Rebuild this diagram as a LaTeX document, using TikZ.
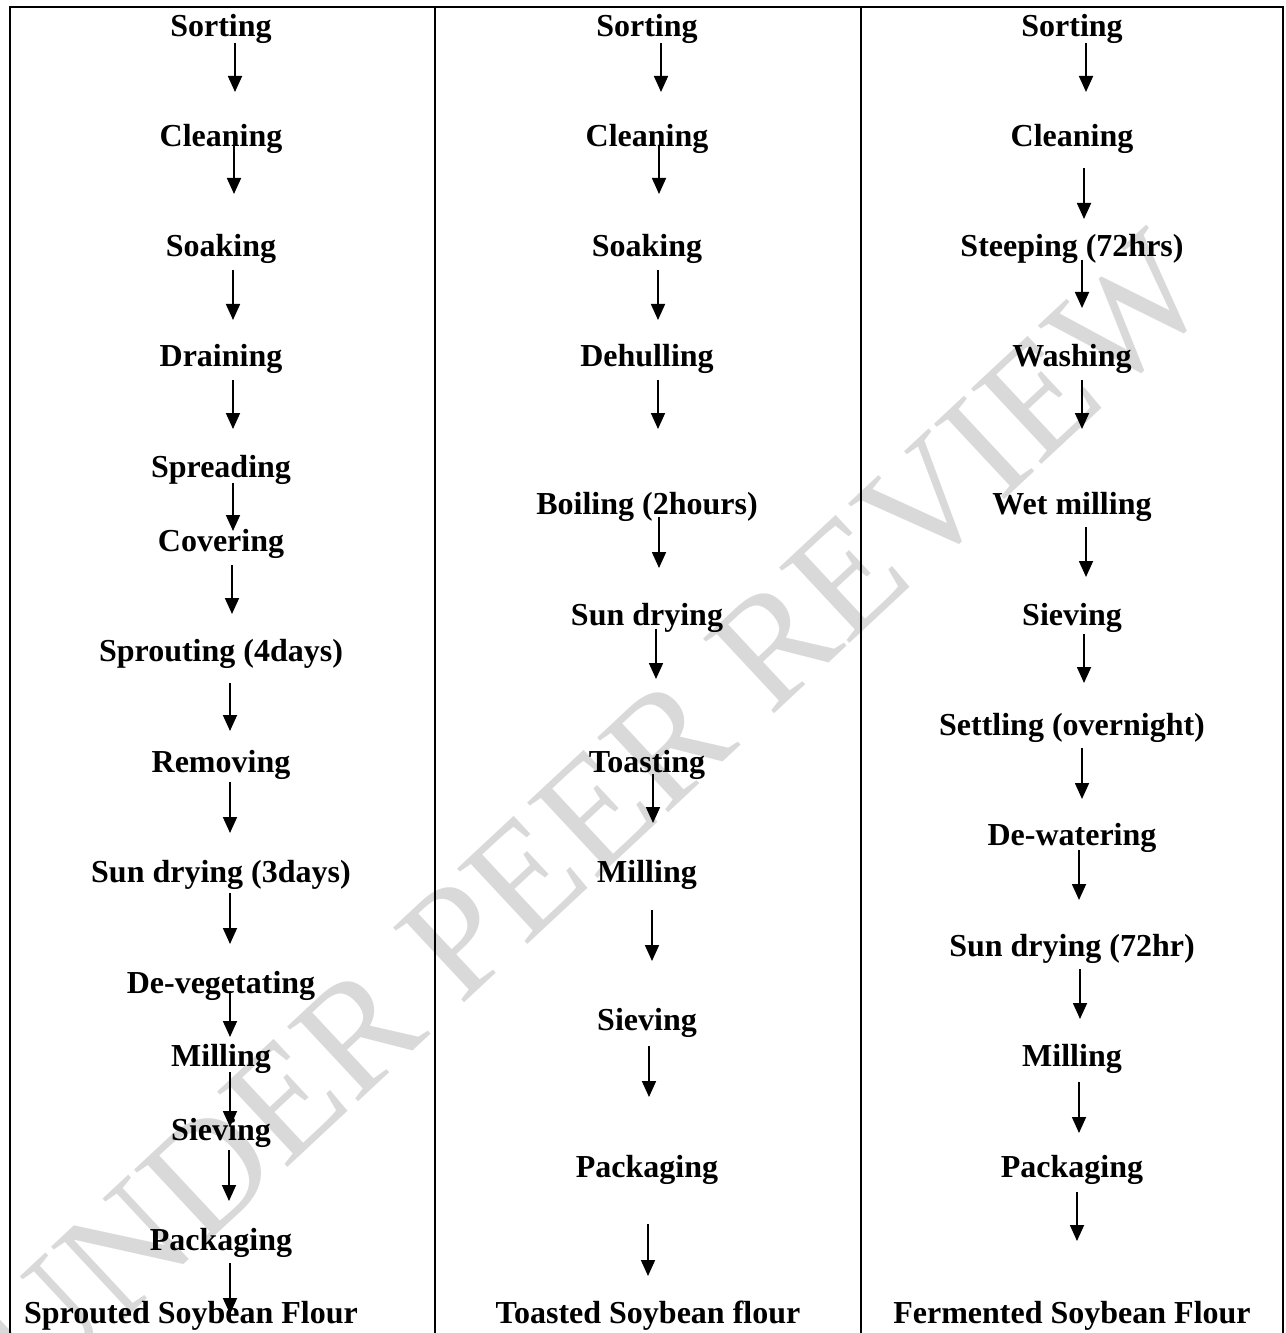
\documentclass[tikz,border=0pt]{standalone}
\usepackage{fontspec}
\setmainfont{Liberation Serif}
\usetikzlibrary{arrows.meta}
\begin{document}
\begin{tikzpicture}[x=0.75pt,y=-0.75pt,
  stage/.style={font=\bfseries\fontsize{24}{28}\selectfont, anchor=base, inner sep=0pt},
  flow/.style={line width=1.3pt, -{Triangle[length=12pt,width=10.5pt]}},
  frame/.style={line width=1.5pt},
  wmark/.style={text=black!15, font=\fontsize{118}{118}\selectfont, rotate=43, inner sep=0pt}]
\fill[white] (0,0) rectangle (1285,1333);
\useasboundingbox (0,0) rectangle (1285,1333);
% watermark
\node[wmark] (wm) at (592,815) {UNDER PEER REVIEW};
% frame
\draw[frame] (10,1333) -- (10,7) -- (1283,7) -- (1283,1333);
\draw[frame] (435,7) -- (435,1333);
\draw[frame] (861,7) -- (861,1333);
% column 1
\node[stage] (a1) at (221,37) {Sorting};
\node[stage] (a2) at (221,147) {Cleaning};
\node[stage] (a3) at (221,257) {Soaking};
\node[stage] (a4) at (221,367) {Draining};
\node[stage] (a5) at (221,477) {Spreading};
\node[stage] (a6) at (221,551) {Covering};
\node[stage] (a7) at (221,661) {Sprouting (4days)};
\node[stage] (a8) at (221,772) {Removing};
\node[stage] (a9) at (221,882) {Sun drying (3days)};
\node[stage] (a10) at (221,993) {De-vegetating};
\node[stage] (a11) at (221,1066) {Milling};
\node[stage] (a12) at (221,1140) {Sieving};
\node[stage] (a13) at (221,1250) {Packaging};
\node[stage] (a14) at (191,1323) {Sprouted Soybean Flour};
% column 2
\node[stage] (b1) at (647,37) {Sorting};
\node[stage] (b2) at (647,147) {Cleaning};
\node[stage] (b3) at (647,257) {Soaking};
\node[stage] (b4) at (647,367) {Dehulling};
\node[stage] (b5) at (647,514) {Boiling (2hours)};
\node[stage] (b6) at (647,625) {Sun drying};
\node[stage] (b7) at (647,772) {Toasting};
\node[stage] (b8) at (647,882) {Milling};
\node[stage] (b9) at (647,1030) {Sieving};
\node[stage] (b10) at (647,1177) {Packaging};
\node[stage] (b11) at (648,1323) {Toasted Soybean flour};
% column 3
\node[stage] (c1) at (1072,37) {Sorting};
\node[stage] (c2) at (1072,147) {Cleaning};
\node[stage] (c3) at (1072,257) {Steeping (72hrs)};
\node[stage] (c4) at (1072,367) {Washing};
\node[stage] (c5) at (1072,514) {Wet milling};
\node[stage] (c6) at (1072,625) {Sieving};
\node[stage] (c7) at (1072,735) {Settling (overnight)};
\node[stage] (c8) at (1072,845) {De-watering};
\node[stage] (c9) at (1072,956) {Sun drying (72hr)};
\node[stage] (c10) at (1072,1066) {Milling};
\node[stage] (c11) at (1072,1177) {Packaging};
\node[stage] (c12) at (1072,1323) {Fermented Soybean Flour};
% arrows
\foreach \n/\x/\ya/\yb in {
  ar1/235/43/92, ar2/234/146/194, ar3/233/270/320, ar4/233/380/429,
  ar5/233/483/531, ar6/232/565/614, ar7/230/683/731, ar8/230/782/833,
  ar9/230/893/944, ar10/230/991/1037, ar11/230/1072/1127, ar12/229/1150/1201,
  ar13/230/1263/1314,
  br1/661/43/92, br2/659/146/194, br3/658/270/320, br4/658/380/429,
  br5/659/517/568, br6/656/629/679, br7/653/774/823, br8/652/910/961,
  br9/649/1046/1097, br10/648/1224/1276,
  cr1/1086/43/92, cr2/1084/168/219, cr3/1082/260/308, cr4/1082/380/429,
  cr5/1086/527/577, cr6/1084/634/683, cr7/1082/748/799, cr8/1079/850/900,
  cr9/1080/969/1019, cr10/1079/1082/1133, cr11/1077/1192/1241}{
  \coordinate (\n-s) at (\x,\ya);
  \coordinate (\n-e) at (\x,\yb);
  \draw[flow] (\n-s) -- (\n-e);
}
\end{tikzpicture}
\end{document}
